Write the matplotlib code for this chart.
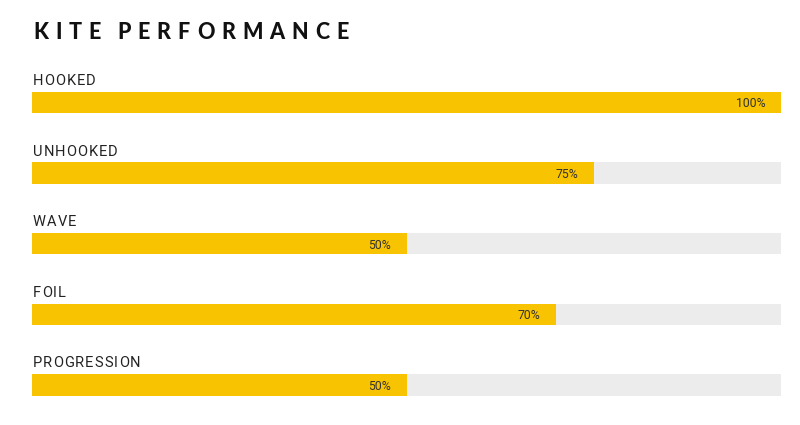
import matplotlib
matplotlib.use("Agg")
import matplotlib.pyplot as plt

categories = ["HOOKED", "UNHOOKED", "WAVE", "FOIL", "PROGRESSION"]
values = [100, 75, 50, 70, 50]
title = "KITE PERFORMANCE"

bar_color = "#f8c300"
track_color = "#ececec"

fig = plt.figure(figsize=(8, 4.25), dpi=100)
fig.patch.set_facecolor("white")

# axes spans the bar track horizontally; rows are 70.6 px apart
ax = fig.add_axes([32 / 800, 0, 749 / 800, 1])
ax.set_xlim(0, 100)
ax.set_ylim(4.568, -1.452)
ax.axis("off")

rows = list(range(len(categories)))
ax.barh(rows, [100] * len(values), height=0.305, color=track_color, left=0)
ax.barh(rows, values, height=0.305, color=bar_color, left=0)

fig.canvas.draw()
renderer = fig.canvas.get_renderer()


def spaced_text(x, y, s, tracking, space, **kw):
    # draw characters one by one (pixel coords) to mimic letter-spacing
    for ch in s:
        if ch == " ":
            x += space
            continue
        t = fig.text(x / 800, 1 - y / 425, ch, ha="left", va="baseline", **kw)
        x += t.get_window_extent(renderer).width + tracking


for i, (cat, v) in enumerate(zip(categories, values)):
    baseline = 85 + i * 70.6
    spaced_text(33, baseline, cat, 1.0, 4, fontsize=10.5, family="Roboto",
                color="#222222")
    ax.text(v - 2.1, i + 0.02, f"{v}%", fontsize=8.8, family="Roboto",
            color="#333333", ha="right", va="center")

spaced_text(33, 39, title, 7.0, 9, fontsize=15.5, family="Lato",
            weight="black", color="#111111")

fig.savefig("out.png", dpi=100)
